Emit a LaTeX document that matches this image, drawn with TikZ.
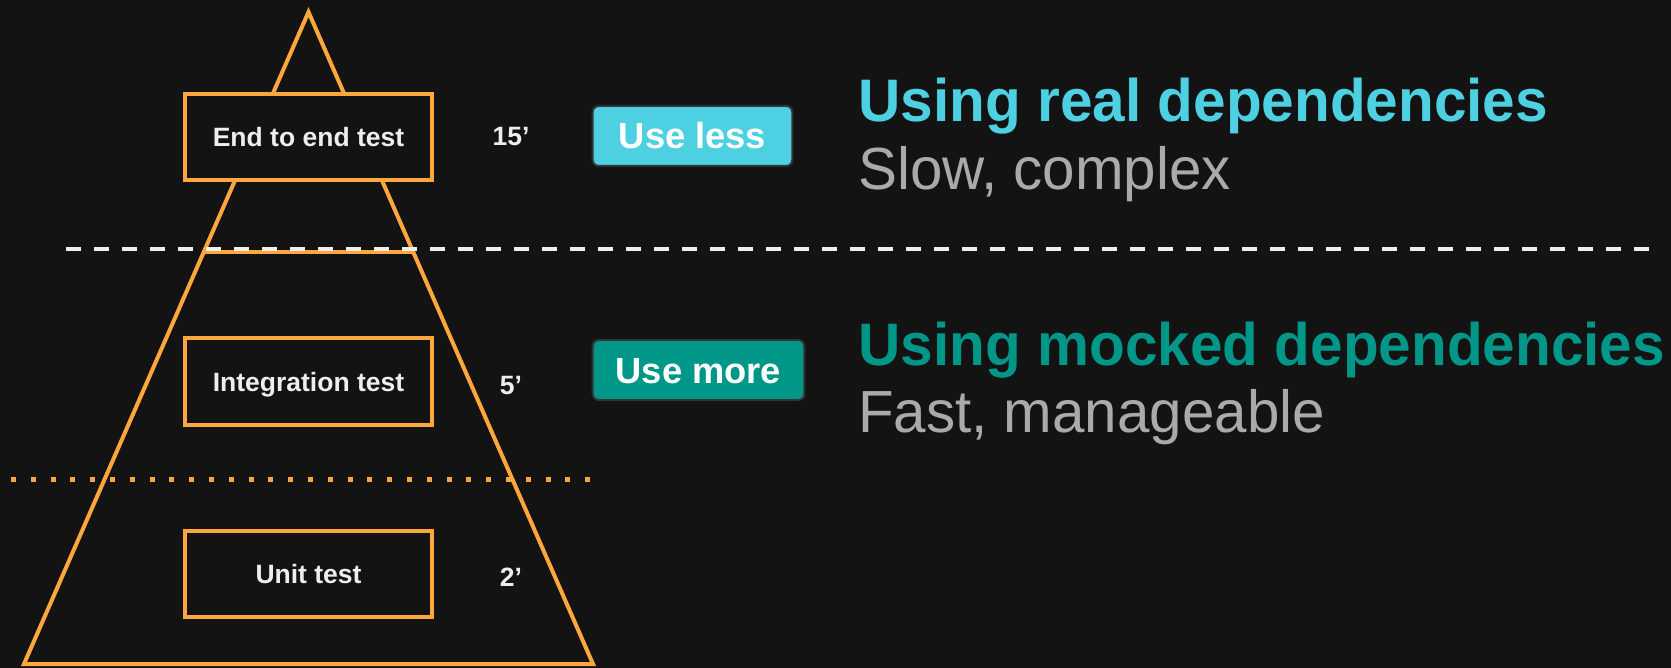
\documentclass[tikz,border=0pt]{standalone}
\usepackage{fontspec}
\setmainfont{Liberation Sans}
\newfontfamily\headfont[FakeStretch=0.975]{Liberation Sans}
\newfontfamily\subfont[FakeStretch=0.98]{Liberation Sans}
\usetikzlibrary{calc}
\definecolor{bg}{HTML}{131313}
\definecolor{pyr}{HTML}{FFA73D}
\definecolor{cyanhi}{HTML}{4DD0E1}
\definecolor{tealhi}{HTML}{009688}
\definecolor{subtxt}{HTML}{AAAAAA}
\definecolor{boxtxt}{HTML}{EEEEEE}
\definecolor{pillrim}{HTML}{333333}
\begin{document}
\begin{tikzpicture}[x=1pt,y=-1pt,
  level/.style={draw=pyr, line width=4pt, fill=bg, minimum width=247pt,
    minimum height=86pt, inner sep=0pt, text=boxtxt,
    font=\fontsize{26.5}{30}\selectfont\bfseries, text height=19pt, text depth=0pt},
  cost/.style={anchor=base, inner sep=0pt, text=boxtxt,
    font=\fontsize{26.5}{30}\selectfont\bfseries},
  pill/.style={draw=pillrim, line width=2pt, rounded corners=6pt, inner sep=0pt,
    minimum height=60pt, text=white, font=\fontsize{36.3}{40}\selectfont\bfseries,
    text height=26pt, text depth=0pt},
  head/.style={anchor=base west, inner sep=0pt, font=\headfont\fontsize{60}{66}\selectfont\bfseries},
  sub/.style={anchor=base west, inner sep=0pt, text=subtxt, font=\subfont\fontsize{59.5}{66}\selectfont},
  outline/.style={draw=pyr, line width=4pt},
  dashsep/.style={draw=boxtxt, line width=4pt, dash pattern=on 15pt off 13pt},
  dotsep/.style={draw=pyr, line width=5pt, dash pattern=on 5pt off 14.8pt}
]
% canvas
\fill[bg] (0,0) rectangle (1671,668);

% pyramid outline and the top chord
\coordinate (apex) at (308.5,12);
\coordinate (bl) at (24,664);
\coordinate (br) at (593,664);
\coordinate (cl) at ($(apex)!0.368!(bl)$);
\coordinate (cr) at ($(apex)!0.368!(br)$);
\draw[outline, line join=miter] (apex) -- (bl) -- (br) -- cycle;
\draw[outline] (cl) -- (cr);

% separators
\coordinate (dotl) at (11,479);
\coordinate (dotr) at (592,479);
\draw[dotsep] (dotl) -- (dotr);
\coordinate (dashl) at (66,249);
\coordinate (dashr) at (1652,249);
\draw[dashsep] (dashl) -- (dashr);

% test levels
\node[level] (e2e) at (308.5,137) {End to end test};
\node[level] (integ) at (308.5,381.5) {Integration test};
\node[level] (unit) at (308.5,574) {Unit test};

% costs
\node[cost] (c15) at (511,146) {15’};
\node[cost] (c5) at (511,394) {5’};
\node[cost] (c2) at (511,586) {2’};

% advice pills
\node[pill, fill=cyanhi, minimum width=199.6pt] (less) at (692.5,136) {Use less};
\node[pill, fill=tealhi, minimum width=211.6pt] (more) at (698.5,370) {Use more};

% headings
\node[head, text=cyanhi] (realh) at (858.5,122) {Using real dependencies};
\node[sub] (reals) at (858,190) {Slow, complex};
\node[head, text=tealhi] (mockh) at (858.5,365) {Using mocked dependencies};
\node[sub] (mocks) at (858,432.5) {Fast, manageable};
\end{tikzpicture}
\end{document}
